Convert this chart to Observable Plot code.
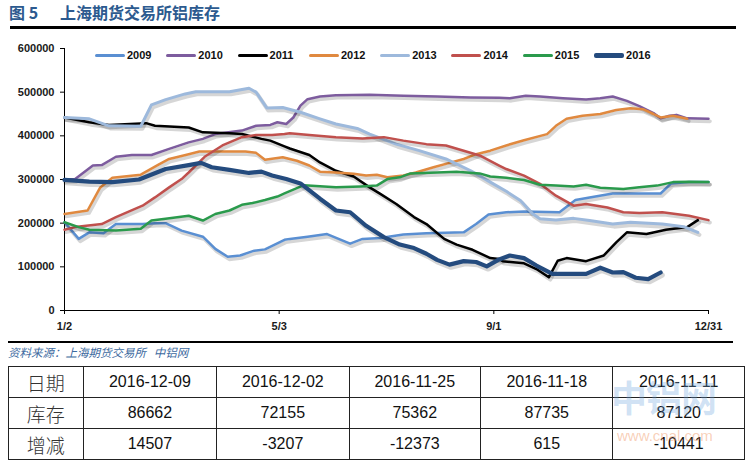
<!DOCTYPE html>
<html>
<head>
<meta charset="utf-8">
<script src="https://cdn.jsdelivr.net/npm/d3@7"></script>
<script src="https://cdn.jsdelivr.net/npm/@observablehq/plot@0.6"></script>
<style>
  html, body { margin:0; padding:0; background:#fff; }
  body { width:745px; height:461px; position:relative; overflow:hidden; font-family:"Liberation Sans", Arial, sans-serif; }
  #title { position:absolute; left:9px; top:2px; font-size:16px; font-weight:bold; color:#2C5A8F; font-family:"Noto Sans CJK SC","Liberation Sans",sans-serif; white-space:nowrap; line-height:20px; }
  #title .num { display:inline-block; width:51px; }
  .rule { position:absolute; background:#000; }
  #chart { position:absolute; left:0; top:30px; }
  #legend { position:absolute; left:95px; top:48px; display:flex; }
  #legend .item { width:71.3px; display:flex; align-items:center; height:14px; }
  #legend .sw { width:30px; border-radius:2px; margin-right:2px; }
  #legend .lab { font-size:11px; font-weight:bold; color:#111; }
  #source { position:absolute; left:8px; top:344px; font-size:11.5px; font-style:italic; color:#3D6AA0; font-family:"Noto Sans CJK SC",sans-serif; white-space:pre; line-height:16px; }
  #tbl { position:absolute; left:8px; top:366px; border-collapse:collapse; }
  #tbl td { border:1px solid #222; text-align:center; font-size:16px; color:#111; padding:0; }
  #tbl td.h { font-family:"Noto Sans CJK SC",sans-serif; font-size:19px; color:#333; font-weight:300; }
  #wm1 { position:absolute; left:611px; top:376px; font-size:36px; font-weight:bold; color:rgba(110,165,220,0.33); font-family:"Noto Sans CJK SC",sans-serif; letter-spacing:-1px; line-height:40px; }
  #wm2 { position:absolute; left:617px; top:428px; font-size:15px; color:rgba(240,150,100,0.45); line-height:16px; }
</style>
</head>
<body>
<div id="title"><span class="num">图 5</span>上海期货交易所铝库存</div>
<div class="rule" style="left:10px;top:26px;width:726px;height:3px;"></div>
<div id="chart"></div>
<div id="legend"></div>
<div class="rule" style="left:8px;top:341px;width:725px;height:2px;"></div>
<div id="source">资料来源：上海期货交易所   中铝网</div>
<table id="tbl"></table>
<div id="wm1">中铝网</div>
<div id="wm2">www.cnal.com</div>
<script>
// ---- data (day of year, inventory in tonnes) ----
const years = ["2009","2010","2011","2012","2013","2014","2015","2016"];

const days2009 = [2,10,16,24,31,46,53,59,68,80,87,94,101,109,115,126,129,139,150,163,170,180,193,206,227,234,241,251,261,281,290,298,311,324,338,344,354,365];
const vals2009 = [202000,164000,179000,177000,198000,198000,200000,200000,183000,169000,141000,123000,126000,137000,140000,162000,164000,169000,175000,153000,164000,166000,174000,177000,179000,198000,220000,225000,227000,225000,253000,259000,268000,268000,268000,291000,294000,294000];

const days2010 = [2,8,18,23,31,40,51,61,72,80,87,102,110,118,122,127,131,135,139,146,155,174,193,212,231,247,253,262,270,283,296,304,311,319,326,334,338,343,347,353,365];
const vals2010 = [300000,301000,332000,333000,352000,356000,356000,370000,385000,393000,404000,412000,423000,425000,431000,427000,442000,469000,484000,490000,493000,494000,492000,490000,488000,487000,486000,492000,490000,486000,483000,486000,490000,480000,468000,452000,440000,446000,448000,440000,439000];

const days2011 = [2,16,27,48,53,72,80,95,102,113,118,126,129,140,146,155,165,174,180,189,199,206,216,223,232,242,247,249,261,268,275,280,285,296,306,313,319,330,341,353,359];
const vals2011 = [442000,431000,425000,429000,423000,419000,408000,406000,404000,393000,389000,376000,371000,356000,339000,320000,307000,282000,267000,244000,214000,198000,164000,151000,139000,120000,118000,113000,108000,95000,76000,114000,120000,113000,126000,156000,179000,175000,185000,191000,207000];

const days2012 = [2,15,22,29,45,55,61,72,78,104,110,115,118,125,133,140,146,155,165,172,178,184,193,200,210,219,227,234,242,251,261,274,279,285,294,304,313,321,328,334,338,345,353];
const vals2012 = [221000,229000,281000,304000,311000,334000,347000,358000,364000,364000,361000,345000,347000,351000,343000,332000,318000,316000,313000,309000,311000,305000,309000,316000,328000,338000,347000,358000,366000,378000,390000,404000,423000,439000,446000,450000,459000,463000,461000,450000,442000,446000,439000];

const days2013 = [2,16,27,45,51,59,70,76,95,106,110,116,125,135,146,155,167,174,189,202,217,231,242,251,259,266,270,279,289,298,311,321,339,351,359];
const vals2013 = [442000,439000,423000,422000,471000,483000,496000,501000,501000,509000,500000,464000,465000,454000,439000,427000,417000,404000,381000,366000,347000,320000,294000,273000,252000,221000,210000,207000,211000,206000,198000,202000,198000,192000,179000];

const days2014 = [2,8,23,31,46,53,61,68,72,81,91,102,110,119,126,129,140,155,170,182,193,206,217,227,236,247,251,261,270,279,289,296,308,317,326,339,354,365];
const vals2014 = [185000,191000,198000,214000,240000,259000,282000,301000,316000,352000,378000,397000,402000,402000,404000,406000,402000,397000,394000,397000,389000,381000,378000,366000,355000,332000,324000,309000,290000,263000,240000,244000,236000,225000,223000,225000,217000,207000];

const days2015 = [2,10,16,31,45,51,59,72,80,87,95,102,108,115,122,126,137,155,169,178,184,191,197,212,223,236,242,251,261,270,279,289,296,304,317,326,336,345,354,365];
const vals2015 = [202000,191000,185000,183000,187000,206000,210000,217000,206000,221000,229000,242000,246000,253000,261000,268000,287000,282000,284000,286000,301000,305000,314000,316000,318000,314000,307000,304000,299000,288000,286000,284000,288000,281000,278000,282000,286000,294000,295000,294000];

const days2016 = [2,16,29,44,59,72,79,85,95,106,113,119,127,135,146,155,163,172,182,191,199,206,212,219,227,234,240,247,253,261,268,277,289,296,304,311,317,324,331,338];
const vals2016 = [299000,295000,294000,300000,324000,333000,338000,328000,322000,315000,318000,309000,301000,291000,256000,229000,225000,194000,168000,151000,143000,130000,116000,105000,113000,111000,101000,117000,126000,120000,103000,84000,84000,84000,98000,87000,88000,75000,72000,87000];

const yTicks = [0,100000,200000,300000,400000,500000,600000];
const xTickDays = [2,123,244,365];
const xTickLabels = ["1/2","5/3","9/1","12/31"];

// table
const tableDates = ["2016-12-09","2016-12-02","2016-11-25","2016-11-18","2016-11-11"];
const tableStock = [86662,72155,75362,87735,87120];
const tableChange = [14507,-3207,-12373,615,-10441];
const rowHeads = ["日期","库存","增减"];

// ---- styles ----
const colors = {"2009":"#5A8FD2","2010":"#7D5C9E","2011":"#000000","2012":"#E0893F","2013":"#9DB9DC","2014":"#C0504D","2015":"#2A9A4C","2016":"#244B7E"};
const widths = {"2009":2.5,"2010":2.5,"2011":2.5,"2012":2.5,"2013":3,"2014":2.5,"2015":2.5,"2016":4.2};

const dataSets = {
  "2009":[days2009,vals2009],"2010":[days2010,vals2010],"2011":[days2011,vals2011],"2012":[days2012,vals2012],
  "2013":[days2013,vals2013],"2014":[days2014,vals2014],"2015":[days2015,vals2015],"2016":[days2016,vals2016]
};
const rows = years.flatMap(y => dataSets[y][0].map((d,i)=>({year:y, day:d, value:dataSets[y][1][i]})));

const lineMarks = years.flatMap(y => {
  const data = rows.filter(r => r.year === y);
  return [
    Plot.line(data, {x:"day", y:"value", stroke:"#000", strokeOpacity:0.16, strokeWidth:widths[y]+1.2, dx:1.5, dy:2.5}),
    Plot.line(data, {x:"day", y:"value", stroke:colors[y], strokeWidth:widths[y], strokeLinejoin:"round", strokeLinecap:"round"})
  ];
});

const xLabelOf = Object.fromEntries(xTickDays.map((d,i)=>[d, xTickLabels[i]]));

const chart = Plot.plot({
  width:745, height:312,
  marginLeft:64, marginRight:37, marginTop:18, marginBottom:32,
  x:{domain:[2,365]},
  y:{domain:[0,600000]},
  style:{fontFamily:"'Liberation Sans', Arial, sans-serif", fontSize:"11px", fontWeight:"bold", color:"#1a1a1a", background:"transparent", overflow:"visible"},
  marks:[
    Plot.axisY({ticks:yTicks, tickFormat:d=>String(d), tickSize:4, tickPadding:6, label:null, stroke:"#000"}),
    Plot.axisX({ticks:xTickDays, tickFormat:d=>xLabelOf[d], tickSize:4, tickPadding:8, label:null, stroke:"#000"}),
    Plot.ruleX([2], {stroke:"#000", strokeWidth:1}),
    Plot.ruleY([0], {stroke:"#000", strokeWidth:1}),
    ...lineMarks
  ]
});
document.getElementById("chart").appendChild(chart);

// legend
const legend = document.getElementById("legend");
years.forEach(y => {
  const it = document.createElement("div"); it.className = "item";
  const sw = document.createElement("div"); sw.className = "sw";
  sw.style.background = colors[y]; sw.style.height = (y==="2016" ? 5 : 3) + "px";
  const lab = document.createElement("span"); lab.className = "lab"; lab.textContent = y;
  it.appendChild(sw); it.appendChild(lab); legend.appendChild(it);
});

// table
const tbl = document.getElementById("tbl");
const colW = [74,133,132,131,132,131];
const rowH = [31,31,31];
[tableDates, tableStock, tableChange].forEach((arr, r) => {
  const tr = document.createElement("tr");
  tr.style.height = rowH[r] + "px";
  const th = document.createElement("td"); th.className = "h"; th.textContent = rowHeads[r]; th.style.width = colW[0]+"px";
  tr.appendChild(th);
  arr.forEach((v,i) => {
    const td = document.createElement("td"); td.textContent = String(v); td.style.width = colW[i+1]+"px";
    tr.appendChild(td);
  });
  tbl.appendChild(tr);
});
</script>
</body>
</html>
